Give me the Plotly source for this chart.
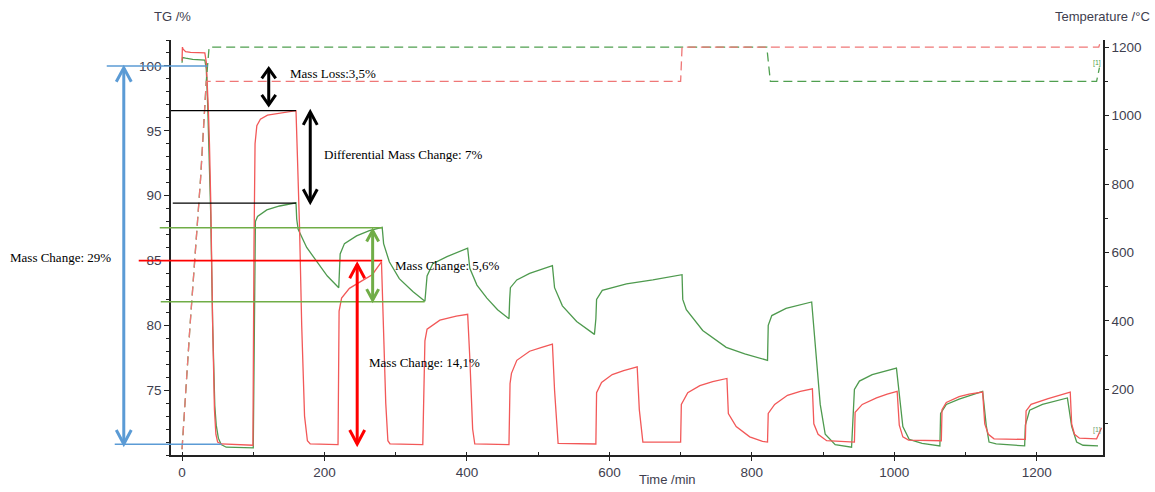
import plotly.graph_objects as go

# ---------------- data ----------------
red_tg_time = [0, 0.5, 1.5, 5, 12, 32, 34, 35.5, 37, 38.5, 40.3, 43, 45.5, 47.5, 50, 55, 70, 99.5,
               101, 102.5, 105, 110, 120, 140, 160,
               162, 165, 168, 172, 176, 180, 219,
               220.5, 224, 235, 253, 267, 280,
               283, 286, 289, 292, 338,
               339.5, 341, 344, 362, 385, 401,
               404, 408, 411, 459,
               460.5, 462.5, 470, 488, 505, 520,
               523, 528, 581,
               582, 589, 604, 620, 639,
               642, 647, 700,
               701, 710, 727, 745, 765,
               767, 778, 797, 815, 822,
               823, 832, 850, 868, 885,
               887, 893, 905, 944,
               945, 955, 975, 990, 1004,
               1007, 1012, 1020, 1066,
               1067, 1073, 1091, 1105, 1124,
               1127, 1132, 1140, 1184,
               1185, 1192, 1216, 1230, 1247,
               1249, 1253, 1260, 1284, 1291]
red_tg = [100.4, 101.45, 101.3, 101.1, 101.05, 101.0, 100.3, 97.5, 96.6, 94.0, 89.6, 80.0, 73.5, 71.6, 71.0, 70.85, 70.8, 70.75,
          86.0, 94.0, 95.4, 95.9, 96.2, 96.4, 96.55,
          93.0, 87.5, 80.0, 73.0, 71.1, 70.85, 70.8,
          81.1, 82.1, 82.85, 83.45, 83.9, 84.9,
          80.0, 74.0, 71.1, 70.85, 70.8,
          76.5, 78.8, 79.7, 80.4, 80.7, 80.85,
          77.5, 72.0, 70.85, 70.8,
          75.5, 76.3, 77.3, 78.0, 78.3, 78.55,
          75.0, 70.9, 70.85,
          74.8, 75.6, 76.2, 76.5, 76.8,
          73.5, 71.0, 71.0,
          73.9, 74.8, 75.35, 75.65, 75.9,
          73.2, 72.2, 71.4, 71.05, 71.0,
          73.2, 73.9, 74.6, 74.9, 75.1,
          72.4, 71.6, 71.1, 71.0,
          73.3, 73.9, 74.4, 74.7, 74.9,
          72.3, 71.4, 71.15, 71.1,
          73.5, 74.05, 74.5, 74.7, 74.85,
          72.4, 71.6, 71.25, 71.2,
          73.4, 73.9, 74.35, 74.6, 74.85,
          72.4, 71.6, 71.3, 71.25, 72.1]

green_tg_time = [0, 0.7, 5, 15, 32, 34, 36, 38.5, 40.3, 43, 46, 48, 51, 55, 62, 100,
                 101.5, 103, 106, 119, 137, 160,
                 161, 163, 175, 189, 204, 220,
                 221, 222, 228, 245, 263, 281,
                 283, 291, 305, 324, 341,
                 342, 344, 352, 372, 401,
                 404, 414, 428, 443, 459,
                 460, 461, 470, 488, 520,
                 523, 534, 554, 579,
                 581, 582, 590, 624, 661, 702,
                 703, 708, 731, 764, 790, 822,
                 823, 828, 848, 884,
                 889, 896, 903, 917, 940,
                 944, 951, 969, 1003,
                 1007, 1012, 1021, 1039, 1064,
                 1065, 1073, 1091, 1124,
                 1129, 1133, 1143, 1183,
                 1184, 1190, 1208, 1243,
                 1249, 1256, 1265, 1286]
green_tg = [100.25, 100.65, 100.6, 100.5, 100.45, 99.8, 97.0, 93.0, 88.5, 80.0, 73.8, 72.3, 71.3, 70.8, 70.6, 70.55,
            80.0, 88.0, 88.4, 88.9, 89.2, 89.45,
            88.2, 87.4, 86.0, 84.9, 83.8, 82.9,
            84.5, 85.5, 86.3, 86.9, 87.3, 87.55,
            86.3, 84.9, 83.6, 82.6, 81.85,
            82.8, 83.8, 84.75, 85.3, 85.95,
            84.4, 83.1, 82.1, 81.2, 80.5,
            82.0, 82.9, 83.5, 84.0, 84.6,
            82.9, 81.5, 80.3, 79.3,
            80.5, 82.0, 82.7, 83.2, 83.5, 83.9,
            82.0, 81.2, 79.6, 78.3, 77.8, 77.3,
            80.0, 80.75, 81.3, 81.8,
            78.3, 73.9, 71.6, 70.8, 70.6,
            75.05, 75.7, 76.2, 76.7,
            74.7, 72.2, 71.2, 70.9, 70.7,
            73.2, 73.9, 74.3, 74.9,
            72.3, 71.0, 70.85, 70.7,
            72.3, 73.45, 73.9, 74.4,
            72.2, 71.0, 70.75, 70.7]

red_temp_time = [0, 11, 26, 34, 40, 700, 702, 1287, 1293]
red_temp = [25, 380, 815, 1100, 1100, 1100, 1200, 1200, 1240]
green_temp_time = [0, 11, 26, 34, 38, 821, 826, 1284, 1288]
green_temp = [25, 380, 815, 1100, 1200, 1200, 1100, 1100, 1140]

x_ticks = [0, 200, 400, 600, 800, 1000, 1200]
tg_ticks = [75, 80, 85, 90, 95, 100]
temp_ticks = [200, 400, 600, 800, 1000, 1200]

X_RANGE = [-15.5, 1293]
TG_RANGE = [70, 102]
T_RANGE = [8, 1221]

# annotation guides (time in min, TG in %)
guide_lines = [  # t0, t1, TG, colour, width
    (-105.7, 36, 100.0, "#5b9bd5", 1.6),
    (-94.5, 55.7, 70.83, "#5b9bd5", 1.6),
    (-15.5, 160, 96.55, "#000000", 1.3),
    (-13, 160, 89.42, "#000000", 1.3),
    (-31.3, 281, 87.52, "#70ad47", 1.6),
    (-29.9, 340.6, 81.82, "#70ad47", 1.6),
    (-60.8, 281, 84.99, "#ff0000", 1.6),
]
arrows = [  # t, TG top, TG bottom, colour, width, head half-width px, head length px
    (-81.8, 99.85, 70.85, "#5b9bd5", 3, 7.5, 14),
    (121.7, 99.8, 97.0, "#000000", 3, 7, 10),
    (180.0, 96.45, 89.5, "#000000", 3, 7, 13),
    (267.6, 87.3, 81.95, "#70ad47", 3, 6, 11),
    (245.9, 84.7, 70.85, "#ff0000", 3, 7.5, 14),
]
text_labels = [  # t (left edge), TG, text
    (-244.6, 85.22, "Mass Change: 29%"),
    (148.3, 99.44, "Mass Loss:3,5%"),
    (196.0, 93.17, "Differential Mass Change: 7%"),
    (295.7, 84.6, "Mass Change: 5,6%"),
    (259.2, 77.16, "Mass Change: 14,1%"),
]

# ---------------- figure ----------------
W, H = 1155, 492
ML, MR, MT, MB = 171, 52, 40, 34
PW, PH = W - ML - MR, H - MT - MB
px_per_min = PW / (X_RANGE[1] - X_RANGE[0])
px_per_pct = PH / (TG_RANGE[1] - TG_RANGE[0])


def xp(t):
    return (t - X_RANGE[0]) / (X_RANGE[1] - X_RANGE[0])


fig = go.Figure()
fig.add_trace(go.Scatter(x=green_temp_time, y=green_temp, yaxis="y2", mode="lines",
                         line=dict(color="#4f9f4f", width=1.3, dash="9px,5px"), hoverinfo="skip"))
fig.add_trace(go.Scatter(x=red_temp_time, y=red_temp, yaxis="y2", mode="lines",
                         line=dict(color="#ef7777", width=1.3, dash="9px,5px"), hoverinfo="skip"))
fig.add_trace(go.Scatter(x=green_tg_time, y=green_tg, mode="lines",
                         line=dict(color="#4e9a4e", width=1.3)))
fig.add_trace(go.Scatter(x=red_tg_time, y=red_tg, mode="lines",
                         line=dict(color="#f25858", width=1.3)))

shapes = []
for t0, t1, v, c, w in guide_lines:
    shapes.append(dict(type="line", xref="paper", yref="y", x0=xp(t0), x1=xp(t1), y0=v, y1=v,
                       line=dict(color=c, width=w), layer="above"))
for t, vt, vb, c, w, hw, hl in arrows:
    shapes.append(dict(type="line", xref="paper", yref="y", x0=xp(t), x1=xp(t), y0=vt, y1=vb,
                       line=dict(color=c, width=w), layer="above"))
    dx = hw / px_per_min
    dy = hl / px_per_pct
    top = f"M {xp(t - dx)} {vt - dy} L {xp(t)} {vt} L {xp(t + dx)} {vt - dy}"
    bot = f"M {xp(t - dx)} {vb + dy} L {xp(t)} {vb} L {xp(t + dx)} {vb + dy}"
    for p in (top, bot):
        shapes.append(dict(type="path", xref="paper", yref="y", path=p,
                           line=dict(color=c, width=w), layer="above"))

annotations = []
for t, v, s in text_labels:
    annotations.append(dict(xref="paper", yref="y", x=xp(t), y=v, text=s, showarrow=False,
                            xanchor="left", yanchor="middle",
                            font=dict(family="Liberation Serif", size=13, color="#000000")))

axis_font = dict(family="Liberation Sans, Arial", size=13.5, color="#3e3e4e")
title_font = dict(family="Liberation Sans, Arial", size=13, color="#3e3e4e")
annotations += [
    dict(xref="paper", yref="paper", x=(172 - ML) / PW, y=(H - MB - 16) / PH, text="TG /%",
         showarrow=False, xanchor="center", yanchor="middle", font=title_font),
    dict(xref="paper", yref="paper", x=(1152 - ML) / PW, y=(H - MB - 16) / PH, text="Temperature /°C",
         showarrow=False, xanchor="right", yanchor="middle", font=title_font),
    dict(xref="paper", yref="paper", x=(667 - ML) / PW, y=(H - MB - 483) / PH, text="Time /min",
         showarrow=False, xanchor="center", yanchor="middle", font=title_font),
    dict(xref="x", yref="y2", x=green_temp_time[-2], y=1154, text="[1]", showarrow=False,
         xanchor="center", yanchor="middle", font=dict(family="Liberation Sans", size=7, color="#4f9f4f")),
    dict(xref="x", yref="y", x=green_tg_time[-1] - 2, y=71.9, text="[1]", showarrow=False,
         xanchor="center", yanchor="middle", font=dict(family="Liberation Sans", size=7, color="#6f9f6f")),
]

line_col = "#222222"
fig.update_layout(
    width=W, height=H, margin=dict(l=ML, r=MR, t=MT, b=MB),
    paper_bgcolor="white", plot_bgcolor="white", showlegend=False,
    shapes=shapes, annotations=annotations,
    xaxis=dict(range=X_RANGE, tickvals=x_ticks, ticks="outside", ticklen=4, tickcolor=line_col,
               showline=True, linecolor=line_col, linewidth=1.5, showgrid=False, zeroline=False,
               tickfont=axis_font,
               minor=dict(tick0=0, dtick=100, ticks="inside", ticklen=3, tickcolor=line_col, showgrid=False)),
    yaxis=dict(range=TG_RANGE, tickvals=tg_ticks, ticks="outside", ticklen=5, tickcolor=line_col,
               showline=True, linecolor=line_col, linewidth=1.5, showgrid=False, zeroline=False,
               tickfont=axis_font,
               minor=dict(tick0=0, dtick=1, ticks="outside", ticklen=3, tickcolor=line_col, showgrid=False)),
    yaxis2=dict(range=T_RANGE, tickvals=temp_ticks, overlaying="y", side="right", ticks="outside",
                ticklen=4, tickcolor=line_col, showline=True, linecolor=line_col, linewidth=1.5,
                showgrid=False, zeroline=False, tickfont=axis_font,
                minor=dict(tick0=0, dtick=100, ticks="outside", ticklen=3, tickcolor=line_col, showgrid=False)),
)

fig.write_html("out.html", config={"displayModeBar": False},
               post_script="document.body.style.margin='0';document.body.style.padding='0';"
                           "document.body.style.overflow='hidden';")
